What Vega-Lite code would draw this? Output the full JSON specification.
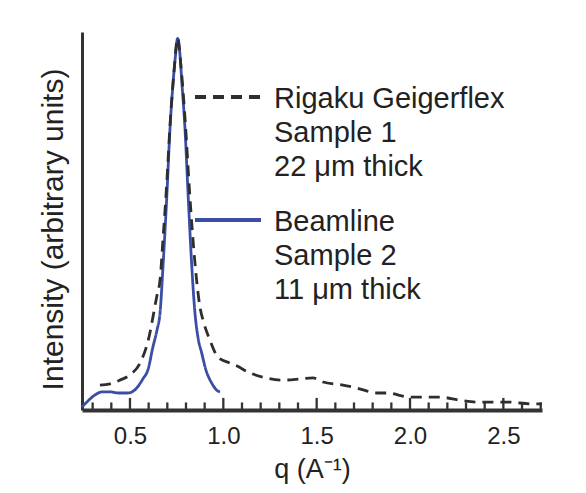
{
  "$schema": "https://vega.github.io/schema/vega-lite/v6.json",
  "autosize": "none",
  "width": 460,
  "height": 378,
  "padding": {"left": 82, "top": 32, "right": 44, "bottom": 83},
  "background": "white",
  "config": {
    "font": "Liberation Sans",
    "view": {"stroke": null}
  },
  "datasets": {
    "curves": [
      {"series": "Beamline", "q": 0.243, "I": 0.8},
      {"series": "Beamline", "q": 0.275, "I": 2.4},
      {"series": "Beamline", "q": 0.313, "I": 4.0},
      {"series": "Beamline", "q": 0.350, "I": 4.8},
      {"series": "Beamline", "q": 0.393, "I": 4.8},
      {"series": "Beamline", "q": 0.436, "I": 4.5},
      {"series": "Beamline", "q": 0.489, "I": 4.5},
      {"series": "Beamline", "q": 0.532, "I": 5.6},
      {"series": "Beamline", "q": 0.570, "I": 8.3},
      {"series": "Beamline", "q": 0.596, "I": 10.6},
      {"series": "Beamline", "q": 0.623, "I": 16.7},
      {"series": "Beamline", "q": 0.645, "I": 21.2},
      {"series": "Beamline", "q": 0.661, "I": 25.7},
      {"series": "Beamline", "q": 0.678, "I": 38.9},
      {"series": "Beamline", "q": 0.697, "I": 56.3},
      {"series": "Beamline", "q": 0.714, "I": 74.1},
      {"series": "Beamline", "q": 0.732, "I": 87.3},
      {"series": "Beamline", "q": 0.744, "I": 93.9},
      {"series": "Beamline", "q": 0.755, "I": 98.3},
      {"series": "Beamline", "q": 0.768, "I": 93.9},
      {"series": "Beamline", "q": 0.777, "I": 87.3},
      {"series": "Beamline", "q": 0.795, "I": 74.1},
      {"series": "Beamline", "q": 0.812, "I": 56.3},
      {"series": "Beamline", "q": 0.830, "I": 38.9},
      {"series": "Beamline", "q": 0.848, "I": 25.7},
      {"series": "Beamline", "q": 0.864, "I": 19.3},
      {"series": "Beamline", "q": 0.884, "I": 15.1},
      {"series": "Beamline", "q": 0.907, "I": 10.6},
      {"series": "Beamline", "q": 0.938, "I": 7.1},
      {"series": "Beamline", "q": 0.971, "I": 5.0},
      {"series": "Beamline", "q": 0.982, "I": 4.8},
      {"series": "Rigaku Geigerflex", "q": 0.339, "I": 6.6},
      {"series": "Rigaku Geigerflex", "q": 0.393, "I": 6.9},
      {"series": "Rigaku Geigerflex", "q": 0.446, "I": 7.9},
      {"series": "Rigaku Geigerflex", "q": 0.500, "I": 9.3},
      {"series": "Rigaku Geigerflex", "q": 0.554, "I": 12.4},
      {"series": "Rigaku Geigerflex", "q": 0.598, "I": 18.5},
      {"series": "Rigaku Geigerflex", "q": 0.643, "I": 29.9},
      {"series": "Rigaku Geigerflex", "q": 0.661, "I": 34.4},
      {"series": "Rigaku Geigerflex", "q": 0.678, "I": 46.0},
      {"series": "Rigaku Geigerflex", "q": 0.698, "I": 60.8},
      {"series": "Rigaku Geigerflex", "q": 0.714, "I": 75.0},
      {"series": "Rigaku Geigerflex", "q": 0.735, "I": 89.0},
      {"series": "Rigaku Geigerflex", "q": 0.755, "I": 98.4},
      {"series": "Rigaku Geigerflex", "q": 0.773, "I": 91.0},
      {"series": "Rigaku Geigerflex", "q": 0.795, "I": 77.0},
      {"series": "Rigaku Geigerflex", "q": 0.821, "I": 56.3},
      {"series": "Rigaku Geigerflex", "q": 0.848, "I": 38.9},
      {"series": "Rigaku Geigerflex", "q": 0.875, "I": 27.2},
      {"series": "Rigaku Geigerflex", "q": 0.896, "I": 23.0},
      {"series": "Rigaku Geigerflex", "q": 0.928, "I": 18.5},
      {"series": "Rigaku Geigerflex", "q": 0.971, "I": 14.0},
      {"series": "Rigaku Geigerflex", "q": 1.036, "I": 12.4},
      {"series": "Rigaku Geigerflex", "q": 1.062, "I": 11.9},
      {"series": "Rigaku Geigerflex", "q": 1.143, "I": 9.8},
      {"series": "Rigaku Geigerflex", "q": 1.212, "I": 8.7},
      {"series": "Rigaku Geigerflex", "q": 1.320, "I": 7.9},
      {"series": "Rigaku Geigerflex", "q": 1.411, "I": 8.2},
      {"series": "Rigaku Geigerflex", "q": 1.480, "I": 8.5},
      {"series": "Rigaku Geigerflex", "q": 1.534, "I": 7.4},
      {"series": "Rigaku Geigerflex", "q": 1.641, "I": 6.6},
      {"series": "Rigaku Geigerflex", "q": 1.716, "I": 5.8},
      {"series": "Rigaku Geigerflex", "q": 1.823, "I": 4.5},
      {"series": "Rigaku Geigerflex", "q": 1.877, "I": 4.5},
      {"series": "Rigaku Geigerflex", "q": 2.000, "I": 3.4},
      {"series": "Rigaku Geigerflex", "q": 2.160, "I": 3.4},
      {"series": "Rigaku Geigerflex", "q": 2.268, "I": 2.6},
      {"series": "Rigaku Geigerflex", "q": 2.359, "I": 2.1},
      {"series": "Rigaku Geigerflex", "q": 2.519, "I": 2.1},
      {"series": "Rigaku Geigerflex", "q": 2.659, "I": 1.6},
      {"series": "Rigaku Geigerflex", "q": 2.707, "I": 1.6}
    ],
    "minorTicks": [
      {"q": 0.3}, {"q": 0.4}, {"q": 0.6}, {"q": 0.7}, {"q": 0.8}, {"q": 0.9},
      {"q": 1.1}, {"q": 1.2}, {"q": 1.3}, {"q": 1.4}, {"q": 1.6}, {"q": 1.7},
      {"q": 1.8}, {"q": 1.9}, {"q": 2.1}, {"q": 2.2}, {"q": 2.3}, {"q": 2.4},
      {"q": 2.6}, {"q": 2.7}
    ],
    "majorTicks": [
      {"q": 0.5}, {"q": 1.0}, {"q": 1.5}, {"q": 2.0}, {"q": 2.5}
    ]
  },
  "layer": [
    {
      "data": {"name": "minorTicks"},
      "mark": {"type": "rule", "strokeWidth": 2.3, "color": "#333333"},
      "encoding": {
        "x": {"field": "q", "type": "quantitative"},
        "y": {"datum": 0, "type": "quantitative"},
        "y2": {"datum": 2.0}
      }
    },
    {
      "data": {"name": "majorTicks"},
      "mark": {"type": "rule", "strokeWidth": 2.3, "color": "#333333"},
      "encoding": {
        "x": {"field": "q", "type": "quantitative"},
        "y": {"datum": 0, "type": "quantitative"},
        "y2": {"datum": 3.2}
      }
    },
    {
      "data": {"name": "curves"},
      "mark": {"type": "line", "interpolate": "monotone", "strokeWidth": 2.8},
      "encoding": {
        "x": {
          "field": "q",
          "type": "quantitative",
          "scale": {"domain": [0.243, 2.707], "nice": false, "zero": false},
          "axis": {
            "title": "q (A⁻¹)",
            "titleFontSize": 27,
            "titleFontWeight": "normal",
            "titleColor": "#222222",
            "titlePadding": 8,
            "values": [0.5, 1.0, 1.5, 2.0, 2.5],
            "format": ".1f",
            "labelFontSize": 24,
            "labelColor": "#222222",
            "labelPadding": 14,
            "labelOverlap": false,
            "labelFlush": false,
            "grid": false,
            "ticks": false,
            "domainColor": "#333333",
            "domainWidth": 4
          }
        },
        "y": {
          "field": "I",
          "type": "quantitative",
          "scale": {"domain": [0, 100], "nice": false},
          "axis": {
            "title": "Intensity (arbitrary units)",
            "titleFontSize": 30,
            "titleFontWeight": "normal",
            "titleColor": "#222222",
            "titlePadding": 14,
            "titleY": 197,
            "labels": false,
            "ticks": false,
            "grid": false,
            "domainColor": "#333333",
            "domainWidth": 3
          }
        },
        "color": {
          "field": "series",
          "type": "nominal",
          "scale": {"domain": ["Rigaku Geigerflex", "Beamline"], "range": ["#2e2e2e", "#3b4ea6"]},
          "legend": {
            "title": null,
            "orient": "none",
            "legendX": 111,
            "legendY": 30,
            "padding": 0,
            "symbolType": "stroke",
            "symbolSize": 4356,
            "symbolStrokeWidth": 4,
            "labelFontSize": 29,
            "labelColor": "#222222",
            "labelOffset": 11,
            "labelBaseline": "top",
            "labelLimit": 400,
            "rowPadding": 3,
            "labelExpr": "datum.label == 'Beamline' ? ['Beamline', 'Sample 2', '11 μm thick'] : ['Rigaku Geigerflex', 'Sample 1', '22 μm thick']",
            "encode": {
              "labels": {
                "update": {
                  "lineHeight": {"value": 34},
                  "dy": {"value": -12}
                }
              }
            }
          }
        },
        "strokeDash": {
          "field": "series",
          "type": "nominal",
          "scale": {"domain": ["Rigaku Geigerflex", "Beamline"], "range": [[11, 7], [1, 0]]},
          "legend": null
        }
      }
    }
  ]
}
